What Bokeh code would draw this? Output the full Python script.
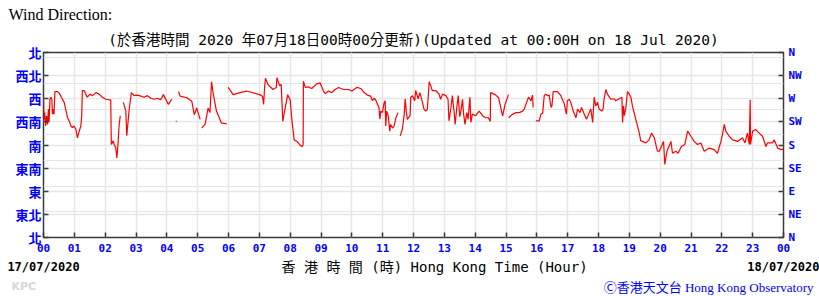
from bokeh.plotting import figure
from bokeh.models import Range1d, FixedTicker, LinearAxis, Title, Grid
from bokeh.embed import file_html
from bokeh.resources import INLINE

NaN = float("nan")

# Wind direction (degrees) against Hong Kong time (hours after 00:00 on 17/07/2020); NaN = data gap
hours = [
    0.00, 0.02, 0.04, 0.07, 0.10, 0.13, 0.16, 0.18, 0.21, 0.24, 0.27, 0.29, 0.32, 0.34, 0.37, 0.45, 0.51,
    0.58, 0.67, 0.72, 0.78, 0.83, 0.89, 0.94, 0.99, 1.05, 1.10, 1.16, 1.21, 1.24, 1.26, 1.32, 1.37, 1.42,
    1.51, 1.59, 1.70, 1.80, 1.91, 2.02, 2.13, 2.18, 2.20, 2.26, 2.29, 2.34, 2.38, 2.42, 2.45, 2.49, NaN,
    2.59, 2.67, 2.70, 2.74, 2.78, 2.85, 2.94, 3.05, 3.16, 3.26, 3.37, 3.48, 3.59, 3.70, 3.80, 3.89, 4.05,
    4.16, NaN,
    4.29, 4.32, NaN,
    4.38, 4.43, 4.65, 4.81, 4.89, 4.97, 5.08, NaN,
    5.13, 5.24, 5.34, 5.40, 5.45, 5.51, 5.61, 5.77, 5.94, NaN,
    5.99, 6.15, 6.37, 6.58, 7.01, 7.10, 7.14, 7.17, 7.20, 7.28, 7.44, 7.55, 7.57, 7.66, 7.71, 7.76, 7.82,
    7.92, 8.00, 8.06, 8.13, 8.22, 8.30, 8.38, 8.42, 8.43, 8.49, 8.59, 8.70, 8.86, 8.97, 9.08, 9.14, 9.24,
    9.35, 9.46, 9.57, 9.73, 9.89, 10.00, 10.16, 10.29, 10.40, 10.51, 10.61, 10.67, 10.72, 10.77, 10.83,
    10.88, 10.91, 10.94, 10.99, 11.05, 11.08, 11.10, 11.13, 11.18, 11.23, 11.26, 11.32, 11.37, 11.43,
    11.50, NaN,
    11.57, 11.64, 11.70, 11.73, 11.77, 11.80, 11.89, 11.91, 11.97, 12.04, 12.07, 12.15, 12.21, 12.29,
    12.34, 12.40, 12.45, 12.51, 12.56, 12.61, 12.72, 12.83, 12.88, 12.94, 13.05, 13.12, 13.15, 13.21,
    13.26, 13.32, 13.35, 13.40, 13.45, 13.50, 13.53, 13.59, 13.62, 13.67, 13.73, 13.77, 13.83, 13.86,
    13.91, 14.02, 14.13, 14.24, 14.34, 14.43, 14.49, 14.50, 14.65, 14.76, 14.89, 14.97, 15.08, NaN,
    15.09, 15.19, 15.32, 15.43, 15.54, 15.59, 15.67, 15.73, 15.81, 15.86, 15.88, NaN,
    15.97, 16.08, 16.13, 16.19, 16.24, 16.29, 16.35, 16.40, 16.46, 16.49, 16.53, 16.67, 16.78, 16.89,
    16.96, 16.99, 17.05, 17.10, 17.18, 17.27, 17.32, 17.40, 17.45, 17.54, 17.61, 17.70, 17.75, 17.81,
    17.86, 17.91, 17.97, 18.02, 18.11, 18.15, 18.18, 18.24, 18.29, 18.40, 18.51, 18.56, 18.67, 18.76,
    18.78, 18.81, 18.84, 18.89, 18.94, 19.00, 19.05, 19.10, 19.21, 19.32, 19.37, 19.43, 19.54, 19.64,
    19.72, 19.81, 19.91, 19.97, 20.11, 20.15, 20.22, 20.35, 20.40, 20.51, 20.58, 20.69, 20.80, 20.89,
    21.00, 21.10, 21.21, 21.32, 21.43, 21.59, 21.75, 21.86, 21.97, 22.02, 22.08, 22.13, 22.24, 22.35,
    22.51, 22.67, 22.75, 22.83, 22.89, 22.92, 22.93, 23.00, 23.10, 23.21, 23.32, 23.43, 23.48, 23.64,
    23.70, 23.81, 23.92, 24.00,
]
direction = [
    269, 230, 243, 217, 237, 220, 250, 224, 269, 273, 269, 240, 250, 240, 284, 284, 281,
    273, 263, 250, 233, 227, 217, 214, 217, 211, 194, 207, 217, 237, 286, 286, 279, 273,
    279, 276, 282, 279, 273, 269, 268, 268, 181, 188, 181, 175, 155, 185, 217, 237, NaN,
    263, 246, 198, 224, 250, 282, 276, 277, 275, 273, 276, 271, 269, 271, 268, 278, 259,
    269, NaN,
    226, 226, NaN,
    284, 275, 272, 265, 239, 252, 230, NaN,
    213, 220, 252, 243, 303, 278, 246, 223, 221, NaN,
    292, 278, 282, 285, 278, 275, 259, 292, 310, 298, 288, 292, 311, 295, 298, 226, 246,
    278, 268, 226, 190, 187, 181, 177, 180, 304, 292, 293, 290, 299, 301, 285, 280, 285,
    282, 288, 292, 288, 288, 285, 292, 290, 282, 277, 275, 266, 271, 268, 260,
    253, 230, 246, 243, 263, 266, 217, 246, 237, 207, 220, 213, 217, 233,
    243, NaN,
    198, 211, 240, 270, 243, 230, 237, 273, 276, 266, 286, 270, 282, 263,
    250, 246, 250, 303, 295, 286, 286, 279, 269, 279, 276, 269, 227, 250,
    276, 243, 220, 250, 276, 235, 243, 269, 243, 220, 243, 230, 273, 224,
    240, 237, 246, 237, 233, 233, 226, 282, 278, 272, 236, 259, 278, NaN,
    233, 239, 243, 243, 246, 250, 263, 273, 266, 277, 253, NaN,
    227, 227, 240, 242, 276, 279, 276, 277, 253, 256, 284, 284, 276, 260,
    240, 266, 269, 263, 246, 233, 250, 243, 253, 240, 230, 243, 250, 224,
    273, 256, 263, 250, 246, 250, 269, 288, 279, 269, 270, 266, 270, 273,
    224, 256, 237, 253, 284, 279, 273, 256, 230, 204, 188, 187, 184, 190,
    203, 194, 168, 168, 187, 142, 168, 187, 164, 168, 164, 177, 181, 207,
    197, 187, 181, 184, 168, 174, 171, 164, 187, 200, 220, 207, 197, 190,
    187, 194, 184, 203, 181, 268, 181, 207, 210, 203, 197, 177, 184, 184,
    190, 174, 171, 172,
]

hour_ticks = list(range(25))
hour_labels = ["%02d" % (h % 24) for h in hour_ticks]
dir_ticks = [0, 45, 90, 135, 180, 225, 270, 315, 360]
dir_labels_zh = ["北", "東北", "東", "東南", "南", "西南", "西", "西北", "北"]
dir_labels_en = ["N", "NE", "E", "SE", "S", "SW", "W", "NW", "N"]
date_ticks = [0, 24]
date_labels = ["17/07/2020", "18/07/2020"]

title_text = "Wind Direction:"
subtitle_text = "(於香港時間 2020 年07月18日00時00分更新)(Updated at 00:00H on 18 Jul 2020)"
xlabel_text = "香 港 時 間 (時) Hong Kong Time (Hour)"
credit_text = "Ⓒ香港天文台 Hong Kong Observatory"
kpc_text = "KPC"

BLUE = "#0000FF"
MONO = "DejaVu Sans Mono"
MIXED = "DejaVu Sans Mono, Noto Sans CJK TC"

p = figure(width=819, height=296, output_backend="svg", toolbar_location=None,
           x_range=Range1d(0, 24), y_range=Range1d(0, 360),
           x_axis_location=None, y_axis_location=None, title=None,
           min_border_left=43, min_border_right=36, min_border_top=52, min_border_bottom=59)
p.background_fill_color = "white"
p.border_fill_color = "white"
p.outline_line_color = "#3a3a3a"
p.outline_line_width = 1.5

# header
p.add_layout(Title(text=subtitle_text, align="center", text_font=MIXED,
                   text_font_size="14.5px", text_font_style="normal", text_color="black",
                   standoff=9), "above")
p.add_layout(Title(text=title_text, align="left", offset=-35, vertical_align="top",
                   text_font="Liberation Serif", text_font_size="16px", text_font_style="normal",
                   text_color="black", standoff=2), "above")

def style_axis(ax):
    ax.axis_line_color = None
    ax.major_tick_in = 5
    ax.major_tick_out = 0
    ax.major_tick_line_color = "#3a3a3a"
    ax.major_tick_line_width = 1.5
    ax.minor_tick_line_color = None
    ax.major_label_text_color = BLUE

xaxis = LinearAxis(ticker=FixedTicker(ticks=hour_ticks),
                   major_label_overrides={t: l for t, l in zip(hour_ticks, hour_labels)})
style_axis(xaxis)
xaxis.major_label_text_font = MONO
xaxis.major_label_text_font_style = "bold"
xaxis.major_label_text_font_size = "11px"
xaxis.major_label_standoff = 6
p.add_layout(xaxis, "below")

# date row with the time-axis caption
xaxis2 = LinearAxis(ticker=FixedTicker(ticks=date_ticks),
                    major_label_overrides={t: l for t, l in zip(date_ticks, date_labels)})
xaxis2.axis_line_color = None
xaxis2.major_tick_line_color = None
xaxis2.minor_tick_line_color = None
xaxis2.major_tick_in = 0
xaxis2.major_tick_out = 0
xaxis2.major_label_text_font = MONO
xaxis2.major_label_text_font_style = "bold"
xaxis2.major_label_text_font_size = "12px"
xaxis2.major_label_text_color = "black"
xaxis2.major_label_standoff = 5
xaxis2.axis_label = "\u00a0" * 5 + xlabel_text
xaxis2.axis_label_text_font = MIXED
xaxis2.axis_label_text_font_size = "14px"
xaxis2.axis_label_text_font_style = "normal"
xaxis2.axis_label_text_color = "black"
xaxis2.axis_label_standoff = -18
p.add_layout(xaxis2, "below")

# footer
p.add_layout(Title(text=credit_text, align="right", offset=-30,
                   text_font="Liberation Serif, Noto Sans CJK TC", text_font_size="13px",
                   text_font_style="normal", text_color=BLUE, standoff=1), "below")
p.add_layout(Title(text=kpc_text, align="left", offset=-32, vertical_align="top",
                   text_font="DejaVu Sans", text_font_size="11px", text_font_style="bold",
                   text_color="#d8d8d8", standoff=-32), "below")

yaxis_l = LinearAxis(ticker=FixedTicker(ticks=dir_ticks),
                     major_label_overrides={t: l for t, l in zip(dir_ticks, dir_labels_zh)})
style_axis(yaxis_l)
yaxis_l.major_label_text_font = "Noto Sans CJK TC"
yaxis_l.major_label_text_font_size = "13px"
yaxis_l.major_label_text_font_style = "bold"
yaxis_l.major_label_standoff = 2
p.add_layout(yaxis_l, "left")

yaxis_r = LinearAxis(ticker=FixedTicker(ticks=dir_ticks),
                     major_label_overrides={t: l for t, l in zip(dir_ticks, dir_labels_en)})
style_axis(yaxis_r)
yaxis_r.major_label_text_font = MONO
yaxis_r.major_label_text_font_style = "bold"
yaxis_r.major_label_text_font_size = "11px"
yaxis_r.major_label_standoff = 5
p.add_layout(yaxis_r, "right")

p.add_layout(Grid(dimension=0, ticker=xaxis.ticker, grid_line_color="#e6e6e6", grid_line_width=1.5))
p.add_layout(Grid(dimension=1, ticker=yaxis_l.ticker, grid_line_color="#e6e6e6", grid_line_width=1.5))

p.line(hours, direction, line_color="#FF0000", line_width=1.2)

open("out.html", "w").write(file_html(p, INLINE))
